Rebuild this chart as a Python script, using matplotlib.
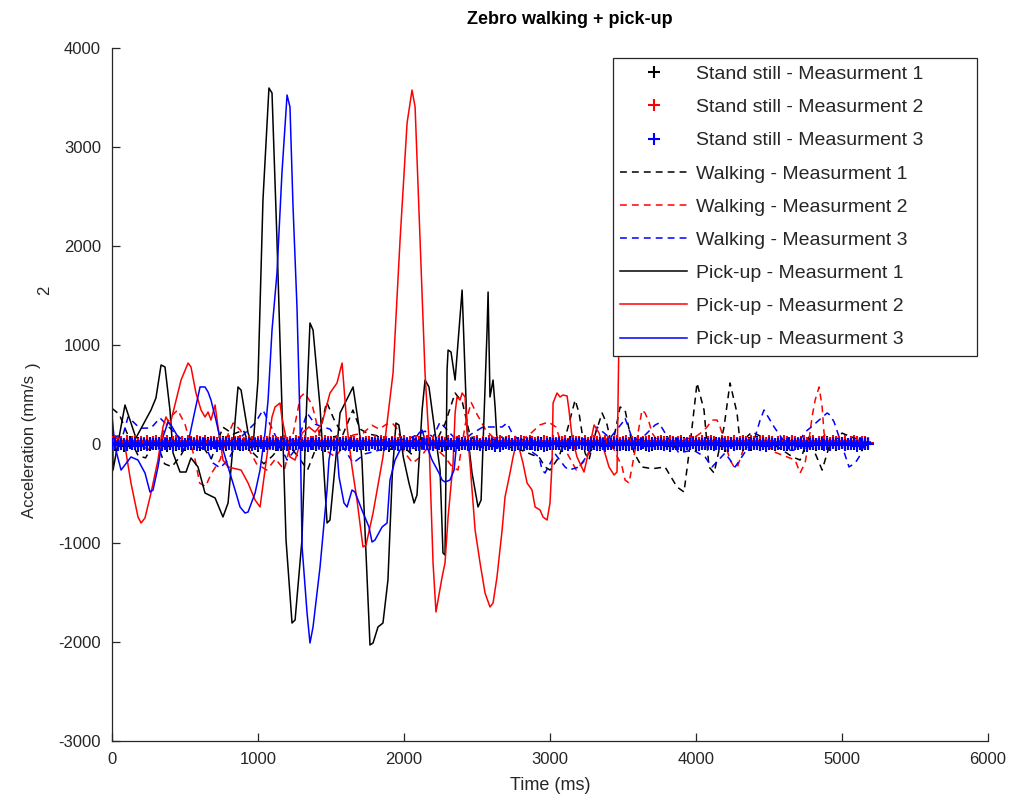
import numpy as np
import matplotlib
matplotlib.use('Agg')
import matplotlib.pyplot as plt

plt.rcParams['font.family'] = ['Liberation Sans', 'DejaVu Sans']
plt.rcParams['axes.unicode_minus'] = False

# stand still: sampled every 20 ms
still_dt = 20
still1 = [5, -10, 15, 0, -20, 10, 20, -5, 0, 10, -15, 5, 15, -10, 20, -5, 0, 10, 5, -20,
          0, 15, -10, 5, 10, -15, 20, 0, -5, 20, -10, 5, 0, 15, -5, 10, -15, 0, 20, -10,
          10, -5, 5, 20, -15, 0, 10, -10, 15, 5, -20, 10, 0, -5, 15, 20, -10, 5, -15, 0,
          15, 0, -10, 10, 20, -5, -15, 5, 10, 0, -10, 15, 5, -20, 10, 0, 20, -5, -10, 15,
          -5, 10, 20, -10, 0, 5, 15, -15, 0, 10, -5, 20, -10, 5, 15, -20, 0, 10, -5, 5,
          20, -10, 0, 15, -15, 5, 10, -5, 20, 0, -10, 15, 5, -20, 0, 10, -5, 15, 20, -10,
          0, 5, -15, 10, 20, -5, 0, 15, -10, 5, 10, -20, 15, 0, -5, 20, 5, -10, 10, 0,
          -10, 20, 5, -5, 15, 0, -15, 10, 20, -10, 5, 0, 15, -5, -20, 10, 0, 20, -10, 5,
          15, -5, 0, 10, -15, 20, 5, -10, 0, 15, -5, 10, 20, -15, 0, 5, -10, 15, 10, -5,
          0, 10, 20, -10, 5, -15, 15, 0, -5, 10, 20, -20, 5, 0, 15, -10, 10, -5, 0, 20,
          -15, 5, 10, 0, 20, -5, -10, 15, 5, 0, -20, 10, 15, -5, 0, 20, -10, 5, 10, -15,
          5, 20, -10, 0, 15, -5, 10, -15, 20, 0, 5, -10, 15, 10, -5, 0, 20, -20, 10, 5,
          0, -10, 15, 5, -5, 20, 0, 10, -15, 5, 15, -10, 0, 20, -5, 10, 5, -10, 0, 10]
still2 = [20, 30, 10, 25, 5, 35, 15, 20, 30, 0, 25, 15, 35, 10, 20, 30, 5, 25, 15, 30,
          10, 25, 35, 15, 20, 5, 30, 20, 10, 35, 25, 15, 30, 5, 20, 25, 10, 35, 15, 20,
          30, 10, 25, 20, 35, 5, 15, 30, 20, 10, 25, 35, 15, 20, 5, 30, 25, 10, 20, 35,
          15, 25, 5, 30, 20, 15, 35, 10, 25, 20, 30, 5, 15, 35, 20, 25, 10, 30, 15, 20,
          25, 10, 30, 20, 5, 35, 15, 25, 20, 10, 30, 15, 35, 20, 25, 5, 20, 30, 10, 25,
          35, 15, 20, 10, 30, 25, 5, 20, 35, 15, 25, 10, 30, 20, 15, 35, 5, 25, 20, 30,
          10, 20, 35, 15, 25, 30, 5, 20, 10, 35, 25, 15, 20, 30, 10, 25, 35, 5, 20, 15,
          30, 25, 10, 35, 20, 15, 25, 5, 30, 20, 10, 35, 15, 25, 20, 30, 5, 15, 35, 25,
          20, 10, 30, 15, 25, 35, 20, 5, 15, 30, 25, 10, 20, 35, 15, 25, 30, 10, 20, 5,
          35, 15, 25, 20, 30, 10, 5, 25, 35, 20, 15, 30, 25, 10, 20, 35, 5, 15, 30, 25,
          20, 15, 35, 10, 25, 30, 20, 5, 15, 35, 25, 20, 10, 30, 15, 25, 35, 20, 5, 30,
          25, 10, 20, 35, 15, 30, 25, 5, 20, 10, 35, 25, 15, 30, 20, 10, 25, 35, 15, 20,
          30, 5, 25, 20, 35, 15, 10, 30, 25, 20, 15, 35, 5, 25, 30, 20, 10, 25, 20, 15]
still3 = [-5, 10, -15, 5, 0, -10, 15, -5, 10, -20, 0, 5, -10, 15, -5, 0, 10, -15, 5, -5,
          10, -10, 0, 15, -20, 5, -5, 10, 0, -15, 15, -5, 5, -10, 0, 10, -20, 5, -5, 15,
          0, -10, 10, -5, 5, -15, 0, 15, -10, 5, -5, 10, -20, 0, 15, -5, 5, -10, 10, 0,
          -15, 5, 0, -5, 15, -10, 10, -20, 5, 0, -5, 15, -10, 5, 0, 10, -15, -5, 15, 0,
          5, -10, 10, -5, -20, 15, 0, 5, -10, 10, -5, 0, 15, -15, 5, -5, 10, 0, -10, 15,
          -5, 5, -20, 10, 0, -10, 15, -5, 5, 0, -15, 10, -5, 15, -10, 0, 5, -20, 10, -5,
          15, 0, -10, 5, -5, 10, -15, 15, 0, -5, 5, -10, 10, -20, 0, 15, -5, 5, -10, 10,
          0, -15, 5, 15, -5, -10, 10, 0, -20, 5, 15, -5, 0, 10, -10, 5, -15, 15, 0, -5,
          10, -5, 0, -15, 15, 5, -10, 10, 0, -20, 5, -5, 15, 0, -10, 10, 5, -15, -5, 15,
          -10, 0, 10, 5, -20, 15, -5, 0, 10, -10, 5, -15, 15, 0, -5, 10, -20, 5, 0, 15,
          5, -10, -5, 15, 0, 10, -15, 5, -5, 10, 0, -20, 15, -10, 5, 0, 10, -5, -15, 15,
          0, 5, -10, 10, -20, 15, 0, -5, 5, 10, -15, 0, 15, -10, 5, -5, 10, 0, -20, 5,
          15, -5, 0, 10, -10, 5, -15, 15, 0, -5, 10, -10, 5, 0, 15, -20, 5, -5, 10, 0]

# walking (ms, mm/s^2)
walk1_t = [0, 50, 100, 180, 230, 300, 360, 410, 470, 530, 600, 680, 760, 830, 900, 960,
           1040, 1100, 1180, 1260, 1340, 1400, 1470, 1520, 1580, 1650, 1700, 1760, 1830,
           1900, 1970, 2050, 2120, 2200, 2280, 2350, 2400, 2450, 2520, 2600, 2672, 2720,
           2800, 2880, 2925, 2966, 3000, 3062, 3120, 3172, 3199, 3240, 3267, 3310, 3357,
           3390, 3425, 3480, 3514, 3576, 3630, 3700, 3788, 3870, 3918, 3960, 4007, 4055,
           4089, 4124, 4192, 4233, 4281, 4302, 4384, 4440, 4570, 4660, 4713, 4774, 4815,
           4864, 4911, 5000, 5117, 5158]
walk1_v = [360, 300, 120, -120, -140, 40, -200, -230, -120, 50, 20, -150, 170, 100, 140, -80,
           -200, -120, 30, -100, -260, -30, 424, 250, 90, 343, 150, 100, 80,
           -60, 10, -100, 40, -30, 200, 515, 420, 100, -40, 40, 71, -30,
           -60, -110, -131, -232, -263, -131, 150, 444, 313, -91, -162, 100, 313,
           200, -30, 374, 343, -91, -232, -250, -232, -434, -485, 0, 616, 343,
           -232, -293, 172, 616, 313, 10, 121, 80, -40, -130, -162, 70, -90,
           -263, -30, 110, 40, 20]
walk2_t = [0, 60, 110, 200, 260, 330, 400, 450, 500, 570, 600, 640, 680, 740, 790, 830,
           880, 940, 990, 1060, 1120, 1180, 1240, 1290, 1320, 1370, 1420, 1480, 1530, 1580,
           1650, 1720, 1780, 1830, 1880, 1920, 1960, 2000, 2060, 2120, 2180, 2230, 2280,
           2330, 2370, 2420, 2460, 2500, 2560, 2630, 2700, 2810, 2870, 2930, 2990, 3040,
           3070, 3120, 3180, 3230, 3290, 3380, 3440, 3494, 3514, 3541, 3562, 3583, 3610,
           3630, 3651, 3678, 3699, 3733, 3836, 3904, 3994, 4042, 4076, 4110, 4144, 4165,
           4199, 4233, 4261, 4281, 4316, 4350, 4473, 4535, 4679, 4713, 4747, 4774, 4795,
           4816, 4843, 4864, 4877, 4898, 5021, 5158]
walk2_v = [100, 20, 0, -20, -60, 60, 273, 343, 200, -162, -394, -430, -300, -160, 80, 212,
           140, -60, -200, -263, -150, -263, 100, 475, 515, 400, 100, -80, -131, -30,
           90, 110, 190, 150, 200, 212, 140, -80, -192, -120, 0, -60, -130,
           -232, -263, 200, 420, 300, 140, 40, 10, 40, 110, 192, 222, 172,
           40, -100, -263, -180, -30, 60, -60, -232, -364, -394, -232, -60, 172,
           343, 313, 222, 111, 40, 20, 40, 71, 121, 172, 242, 242, 172,
           10, -162, -232, -242, -91, 40, 10, -80, -162, -293, -192, 40, 273,
           444, 576, 374, 111, 10, 20, 20]
walk3_t = [0, 75, 110, 190, 267, 329, 384, 466, 568, 651, 692, 740, 795, 877, 980, 1034,
           1082, 1199, 1254, 1336, 1391, 1493, 1596, 1651, 1733, 1836, 1939, 2041, 2144,
           2199, 2247, 2308, 2384, 2460, 2541, 2672, 2706, 2740, 2829, 2925, 2946, 2966,
           3035, 3103, 3130, 3199, 3288, 3322, 3411, 3494, 3514, 3562, 3617, 3720, 3747,
           3809, 3884, 3980, 4062, 4110, 4199, 4268, 4405, 4439, 4466, 4507, 4535, 4658,
           4747, 4781, 4898, 4918, 4946, 5048, 5090, 5117, 5158]
walk3_v = [70, 90, 273, 160, 161, 263, 180, 60, -20, -60, -192, -242, -162, 60, 212, 343,
           200, -162, -60, 313, 200, 150, -60, -192, -100, -60, 30, 60, 130,
           70, 222, 121, 0, 100, 172, 172, 212, 111, -30, -131, -263, -293,
           -100, -232, -263, -232, -50, 172, 60, 212, 263, 60, 40, 192, 212,
           60, -91, -60, -131, -232, -91, -232, 71, 242, 343, 242, 172, -91,
           121, 161, 313, 293, 222, -232, -192, -131, 10]

# pick-up (ms, mm/s^2)
pick1_t = [0, 7, 89, 164, 267, 301, 336, 363, 397, 418, 466, 507, 541, 589, 637, 706,
           760, 795, 863, 884, 932, 966, 1000, 1034, 1075, 1096, 1130, 1164, 1192, 1233,
           1254, 1301, 1329, 1356, 1377, 1425, 1473, 1493, 1562, 1651, 1692, 1712, 1767,
           1788, 1822, 1856, 1890, 1920, 1945, 1965, 1995, 2034, 2069, 2089, 2124, 2144,
           2171, 2213, 2247, 2267, 2281, 2295, 2302, 2322, 2350, 2398, 2432, 2466, 2507,
           2528, 2569, 2576, 2589, 2610, 2624, 2637, 2658]
pick1_v = [515, -263, 394, 61, 343, 465, 798, 778, 343, -91, -283, -283, -141, -232, -495, -545,
           -737, -596, 576, 545, 111, -30, 646, 2464, 3596, 3545, 2060, 374, -970, -1808,
           -1778, -970, 242, 1222, 1151, 374, -798, -768, 313, 576, 172, -162, -2030,
           -2010, -1848, -1808, -1374, -300, 212, 192, -131, -394, -596, -515, 343, 646,
           576, 111, -263, -1101, -1121, 747, 949, 929, 646, 1555, 141, -293, -636,
           -566, 1151, 1535, 475, 646, 374, 40, -61]
pick2_t = [0, 7, 41, 82, 130, 178, 199, 226, 267, 315, 349, 370, 397, 473, 521, 541,
           575, 610, 637, 658, 678, 706, 726, 760, 795, 884, 932, 980, 1014, 1048, 1096,
           1117, 1151, 1164, 1199, 1219, 1254, 1281, 1302, 1349, 1391, 1439, 1493, 1541,
           1576, 1610, 1644, 1678, 1719, 1740, 1788, 1856, 1925, 1973, 2021, 2055, 2076,
           2110, 2144, 2171, 2199, 2219, 2261, 2281, 2302, 2336, 2350, 2363, 2384, 2398,
           2418, 2432, 2452, 2487, 2521, 2555, 2589, 2610, 2637, 2672, 2692, 2726, 2747,
           2774, 2815, 2843, 2877, 2898, 2932, 2952, 2980, 3000, 3014, 3021, 3048, 3069,
           3089, 3117, 3130, 3151, 3185, 3233, 3267, 3302, 3336, 3370, 3404, 3439, 3459,
           3473]
pick2_v = [-434, 70, 10, 40, -394, -737, -798, -747, -495, -162, 172, 273, 192, 646, 818, 778,
           515, 343, 273, 323, 242, 394, 172, -162, -232, -263, -394, -566, -636, -263, 273,
           374, 414, 263, 10, -131, -162, -30, 111, 172, 121, 212, 515, 616,
           818, 172, -232, -566, -1040, -1020, -697, -131, 717, 2060, 3242, 3575, 3404,
           2060, 717, 40, -1202, -1697, -1343, -1202, -737, -192, 313, 475, 444, 515,
           475, 141, -192, -869, -1202, -1505, -1646, -1606, -1343, -869, -535, -293, -131,
           40, -192, -394, -465, -636, -667, -737, -768, -596, -192, 414, 515, 475,
           495, 485, 343, 71, -131, -283, -61, 192, 111, -61, -232, -313, -283,
           1150]
pick3_t = [0, 21, 62, 130, 178, 226, 260, 281, 315, 349, 384, 404, 452, 486, 521, 569,
           603, 637, 658, 678, 712, 747, 795, 843, 877, 911, 932, 980, 1014, 1048, 1069,
           1096, 1130, 1164, 1199, 1219, 1240, 1267, 1288, 1302, 1336, 1356, 1377, 1425,
           1473, 1486, 1507, 1541, 1555, 1589, 1610, 1644, 1664, 1712, 1760, 1781, 1801,
           1850, 1884, 1904, 1939, 1973, 2007, 2055, 2103, 2124, 2158, 2192, 2240, 2261,
           2281, 2315, 2343, 2363, 2398, 2452]
pick3_v = [273, -30, -263, -131, -162, -293, -485, -465, -232, 71, 222, 192, 71, -61, 10, 343,
           576, 576, 525, 444, 242, 10, -232, -465, -636, -697, -687, -495, -263, 111, 444,
           1151, 1727, 2737, 3525, 3404, 2394, 1384, 212, -1040, -1707, -2010, -1848, -1242,
           -465, -162, 10, -61, -333, -596, -636, -465, -485, -667, -838, -990, -970,
           -838, -798, -364, -162, -61, -10, 10, 111, 141, -30, -162, -293, -364,
           -384, -364, -263, 40, -10, 0]

labels_still = ['Stand still - Measurment 1', 'Stand still - Measurment 2', 'Stand still - Measurment 3']
labels_walk = ['Walking - Measurment 1', 'Walking - Measurment 2', 'Walking - Measurment 3']
labels_pick = ['Pick-up - Measurment 1', 'Pick-up - Measurment 2', 'Pick-up - Measurment 3']
colors = ['#000000', '#ff0000', '#0000ff']
axcol = '#262626'

fig = plt.figure(figsize=(10.11, 7.99), dpi=100)
ax = fig.add_axes([112/1011, 58/799, 876/1011, 693/799])

h_walk = []
for t, v, c, lab in zip([walk1_t, walk2_t, walk3_t], [walk1_v, walk2_v, walk3_v], colors, labels_walk):
    l, = ax.plot(t, v, color=c, lw=1.1, dashes=(4.5, 3.3), label=lab, zorder=2)
    h_walk.append(l)

h_pick = []
for t, v, c, lab in zip([pick1_t, pick2_t, pick3_t], [pick1_v, pick2_v, pick3_v], colors, labels_pick):
    l, = ax.plot(t, v, color=c, lw=1.1, label=lab, zorder=2)
    h_pick.append(l)

h_still = []
for v, c, lab in zip([still1, still2, still3], colors, labels_still):
    t = np.arange(len(v)) * still_dt
    l, = ax.plot(t, v, ls='none', marker='+', ms=8, mew=1.5, color=c, label=lab, zorder=3)
    h_still.append(l)

ax.set_xlim(0, 6000)
ax.set_ylim(-3000, 4000)
ax.set_xticks(range(0, 6001, 1000))
ax.set_yticks(range(-3000, 4001, 1000))
ax.spines['top'].set_visible(False)
ax.spines['right'].set_visible(False)
for s in ['left', 'bottom']:
    ax.spines[s].set_color(axcol)
    ax.spines[s].set_linewidth(0.9)
ax.tick_params(direction='in', length=5.8, width=0.9, colors=axcol, labelsize=12)
ax.tick_params(axis='y', pad=8)
ax.tick_params(axis='x', pad=8)

leg = ax.legend(h_still + h_walk + h_pick, labels_still + labels_walk + labels_pick,
                loc='upper left', bbox_to_anchor=(0.572, 0.557, 0.4154, 0.4285),
                mode='expand', borderaxespad=0, fontsize=14, labelspacing=0.8,
                handlelength=3.4, handletextpad=0.46, borderpad=0.38, numpoints=1,
                fancybox=False, framealpha=1)
leg.get_frame().set_edgecolor(axcol)
leg.get_frame().set_linewidth(0.9)
for txt in leg.get_texts():
    txt.set_color(axcol)

fig.text(570/1011, 1 - 20/799, 'Zebro walking + pick-up', ha='center', va='center',
         fontsize=13, fontweight='bold', color='#000000')
fig.text(550/1011, 1 - 786/799, 'Time (ms)', ha='center', va='center', fontsize=13, color=axcol)
# octave placed the superscript of the y label oddly; keep its pieces where they sit
fig.text(30/1011, 1 - 446/799, 'Acceleration (mm/s', ha='center', va='center',
         rotation=90, fontsize=12, color=axcol)
fig.text(33/1011, 1 - 365/799, ')', ha='center', va='center', rotation=90, fontsize=12, color=axcol)
fig.text(45/1011, 1 - 290/799, '2', ha='center', va='center', rotation=90, fontsize=12, color=axcol)

fig.savefig('out.png', dpi=100)
